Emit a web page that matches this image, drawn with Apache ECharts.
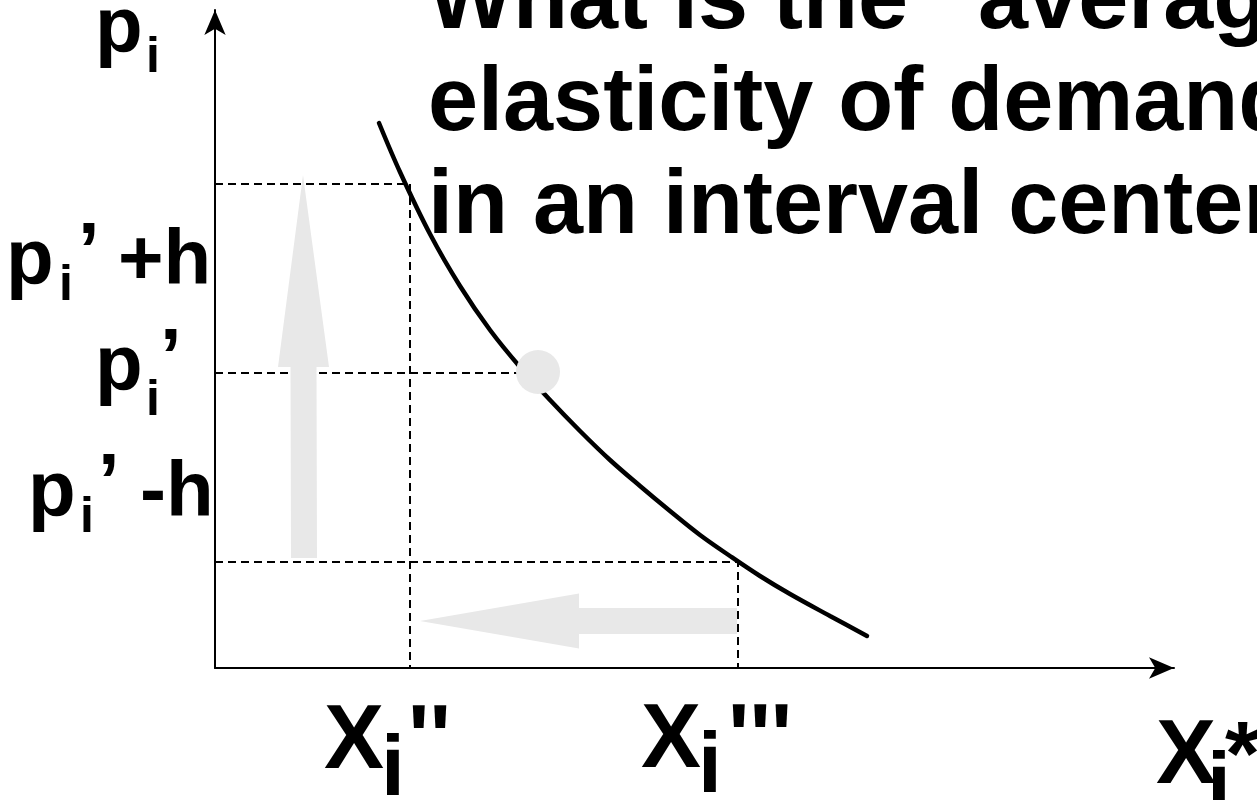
<!DOCTYPE html>
<html>
<head>
<meta charset="utf-8">
<style>
  html, body { margin: 0; padding: 0; background: #fff; }
  #chart { width: 1257px; height: 800px; }
</style>
<script src="https://cdn.jsdelivr.net/npm/echarts@6/dist/echarts.min.js"></script>
</head>
<body>
<div id="chart"></div>
<script>
// ---- data (arbitrary units) ----
const demandCurve = [
  [164, 545], [185, 496], [215, 434], [245, 382], [275, 338], [305, 301],
  [335, 268], [365, 237], [395, 208], [425, 182], [455, 157], [485, 133],
  [515, 112], [545, 92], [575, 74], [615, 52], [652, 32]
];
const guideHigh = [[0, 484], [195, 484], [195, 0]];   // p_i' + h  -> X_i''
const guideMid  = [[0, 295], [323, 295]];             // p_i'
const guideLow  = [[0, 106], [523, 106], [523, 0]];   // p_i' - h  -> X_i'''
const centerPoint = [[323, 296]];
const arrowUp   = [89, 110, 88, 493];   // tailX, tailY, tipX, tipY
const arrowLeft = [522, 47, 205, 47];
const titleLines = ['What is the \u201caverage\u201d', 'elasticity of demand', 'in an interval centered'];
const axisMax = { x: 959, y: 658 };

// ---- helpers ----
const FONT = '"Liberation Sans", Arial, Helvetica, sans-serif';
function txt(text, x, baseline, fs) {
  return {
    type: 'text', x: x, y: baseline - 0.27 * fs, silent: true, z: 100,
    style: { text: text, fontFamily: FONT, fontWeight: 'bold', fontSize: fs,
             fill: '#000', align: 'left', verticalAlign: 'middle' }
  };
}
const GRAY = '#e8e8e8';
const arrowShapes = [
  { shaft: 26, headW: 51, headLen: 192 },
  { shaft: 26, headW: 55, headLen: 159 }
];

const chart = echarts.init(document.getElementById('chart'), null, { renderer: 'canvas' });

const dashed = { color: '#000', width: 2, type: [8, 5] };
function lineSeries(data, style, z) {
  return { type: 'line', data: data, showSymbol: false, symbol: 'none', silent: true,
           animation: false, lineStyle: style, z: z };
}

const option = {
  animation: false,
  grid: { left: 215, right: 83, top: 10, bottom: 132, containLabel: false },
  xAxis: {
    type: 'value', min: 0, max: axisMax.x,
    axisLine: { show: true, symbol: ['none', 'arrow'], symbolSize: [16, 25],
                lineStyle: { color: '#000', width: 2 } },
    axisTick: { show: false }, axisLabel: { show: false }, splitLine: { show: false }
  },
  yAxis: {
    type: 'value', min: 0, max: axisMax.y,
    axisLine: { show: true, symbol: ['none', 'arrow'], symbolSize: [16, 25],
                lineStyle: { color: '#000', width: 2 } },
    axisTick: { show: false }, axisLabel: { show: false }, splitLine: { show: false }
  },
  series: [
    lineSeries(guideHigh, dashed, 2),
    lineSeries(guideMid, dashed, 2),
    lineSeries(guideLow, dashed, 2),
    {
      type: 'custom', silent: true, z: 3, animation: false,
      data: [arrowUp, arrowLeft],
      renderItem: function (params, api) {
        const i = params.dataIndex;
        const s = arrowShapes[i];
        const p0 = api.coord([api.value(0), api.value(1)]);
        const p1 = api.coord([api.value(2), api.value(3)]);
        const dx = p1[0] - p0[0], dy = p1[1] - p0[1];
        const L = Math.sqrt(dx * dx + dy * dy);
        const ux = dx / L, uy = dy / L, nx = -uy, ny = ux;
        const b = [p1[0] - ux * s.headLen, p1[1] - uy * s.headLen];
        const hs = s.shaft / 2, hh = s.headW / 2;
        const pts = [
          [p0[0] + nx * hs, p0[1] + ny * hs],
          [b[0] + nx * hs, b[1] + ny * hs],
          [b[0] + nx * hh, b[1] + ny * hh],
          p1,
          [b[0] - nx * hh, b[1] - ny * hh],
          [b[0] - nx * hs, b[1] - ny * hs],
          [p0[0] - nx * hs, p0[1] - ny * hs]
        ];
        return { type: 'polygon', shape: { points: pts }, style: { fill: GRAY } };
      }
    },
    Object.assign(lineSeries(demandCurve, { color: '#000', width: 4.5, cap: 'round' }, 4),
                  { smooth: 0.35 }),
    {
      type: 'scatter', data: centerPoint, symbol: 'circle', symbolSize: 44,
      itemStyle: { color: GRAY, opacity: 1 }, silent: true, z: 10, animation: false
    }
  ],
  graphic: [
    // title
    txt(titleLines[0], 428, 27, 90),
    txt(titleLines[1], 428, 129, 90),
    txt(titleLines[2], 428, 232, 90),
    // p_i (axis name)
    txt('p', 95, 52, 78), txt('i', 146, 72, 50),
    // p_i' + h
    txt('p', 6, 284, 78), txt('i', 59, 300, 50), txt('\u2019', 78, 277, 78), txt('+h', 118, 284, 78),
    // p_i'
    txt('p', 95, 390, 78), txt('i', 146, 415, 50), txt('\u2019', 160, 383, 78),
    // p_i' - h
    txt('p', 28, 516, 78), txt('i', 80, 532, 50), txt('\u2019', 98, 508, 78), txt('-h', 140, 516, 78),
    // X_i''
    txt('X', 324, 767, 90), txt('i', 381, 795, 86), txt("''", 408, 767, 90),
    // X_i'''
    txt('X', 641, 766, 90), txt('i', 698, 792, 86), txt("'''", 728, 766, 90),
    // X_i*
    txt('X', 1156, 782, 90), txt('i', 1207, 812, 86), txt('*', 1225, 784, 90)
  ]
};
chart.setOption(option);
</script>
</body>
</html>
